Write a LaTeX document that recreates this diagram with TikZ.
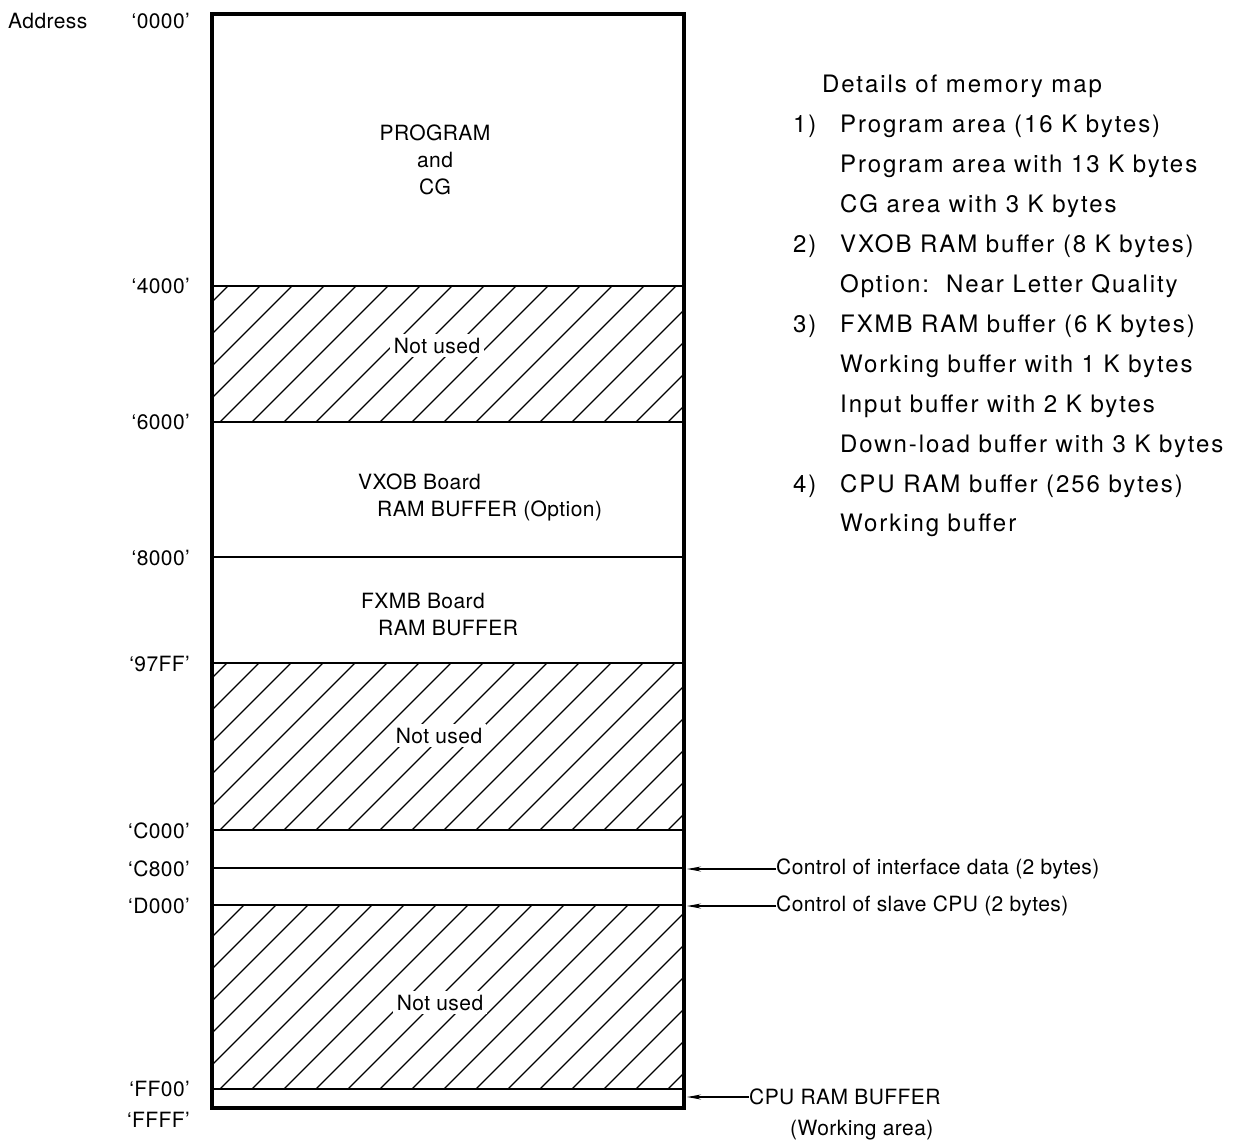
\documentclass[tikz,border=0pt]{standalone}
\usepackage{fontspec}
\setmainfont{TeX Gyre Heros}
\newfontfamily\mapfont[LetterSpace=2]{TeX Gyre Heros}
\newfontfamily\detailfont[LetterSpace=8]{TeX Gyre Heros}
\usetikzlibrary{arrows.meta, positioning}

\begin{document}
\begin{tikzpicture}[
        x=1pt, y=-1pt,
        maplabel/.style={font=\mapfont\fontsize{21}{27}\selectfont, inner sep=0pt},
        addrlabel/.style={maplabel, anchor=base east},
        detail/.style={font=\detailfont\fontsize{24}{30}\selectfont, inner sep=0pt, anchor=base west},
        unused/.style={maplabel, fill=white, inner sep=4pt, anchor=base},
        pointer/.style={-{Stealth[length=14pt, width=5pt]}, line width=1.1pt},
        divider/.style={line width=1.8pt},
        hatch/.style={line width=1.2pt}
    ]
    \useasboundingbox (0,0) rectangle (1245,1146);

    % hatched (unused) areas
    \foreach \top/\bot in {286/422, 663/830, 905/1089} {
        \begin{scope}
            \clip (212,\top) rectangle (684,\bot);
            \foreach \k in {-600,-568,...,700}
                \draw[hatch] (212+\k,\bot) -- ++(600,-600);
        \end{scope}
    }

    % memory map frame and dividers
    \draw[line width=3.2pt] (212,14) rectangle (684,1108);
    \foreach \y in {286, 422, 557, 663, 830, 868, 905, 1089}
        \draw[divider] (212,\y) -- (684,\y);

    % addresses
    \node[maplabel, anchor=base west] (address) at (8,28) {Address};
    \foreach \addr/\y in {0000/28, 4000/293, 6000/429, 8000/565, 97FF/671,
                          C000/838, C800/876, D000/913, FF00/1096, FFFF/1127}
        \node[addrlabel] (a\addr) at (190,\y) {‘\addr’};

    % area labels
    \node[maplabel, align=center, anchor=base] (program) at (435,194) {PROGRAM\\and\\CG};
    \node[unused] (unusedA) at (437,353) {Not used};
    \node[maplabel, anchor=base west] (vxob) at (358,489) {VXOB Board};
    \node[maplabel, anchor=base west] (vxobbuf) at (377,516) {RAM BUFFER (Option)};
    \node[maplabel, anchor=base west] (fxmb) at (361,608) {FXMB Board};
    \node[maplabel, anchor=base west] (fxmbbuf) at (378,635) {RAM BUFFER};
    \node[unused] (unusedB) at (439,743) {Not used};
    \node[unused] (unusedC) at (440,1010) {Not used};

    % pointers to the map
    \coordinate (c800) at (687,869);
    \coordinate (d000) at (687,906);
    \coordinate (ff00) at (687,1097);
    \node[maplabel, anchor=west] (ifdata) at (776,869) {Control of interface data (2 bytes)};
    \node[maplabel, anchor=west] (slave) at (776,906) {Control of slave CPU (2 bytes)};
    \node[maplabel, anchor=west] (cpuram) at (749,1097) {CPU RAM BUFFER};
    \node[maplabel, anchor=base west] (workarea) at (790,1135) {(Working area)};
    \draw[pointer] (ifdata.west) -- (c800);
    \draw[pointer] (slave.west) -- (d000);
    \draw[pointer] (cpuram.west) -- (ff00);

    % details of memory map
    \node[detail] (details) at (822,92) {Details of memory map};
    \foreach \n/\y in {1/132, 2/252, 3/332, 4/492}
        \node[detail] (num\n) at (793,\y) {\n)};
    \foreach \y/\txt in {132/Program area (16 K bytes),
                         172/Program area with 13 K bytes,
                         212/CG area with 3 K bytes,
                         252/VXOB RAM buffer (8 K bytes),
                         292/Option:\ \ Near Letter Quality,
                         332/FXMB RAM buffer (6 K bytes),
                         372/Working buffer with 1 K bytes,
                         412/Input buffer with 2 K bytes,
                         452/Down-load buffer with 3 K bytes,
                         492/CPU RAM buffer (256 bytes),
                         531/Working buffer}
        \node[detail] (item\y) at (840,\y) {\txt};
\end{tikzpicture}
\end{document}
